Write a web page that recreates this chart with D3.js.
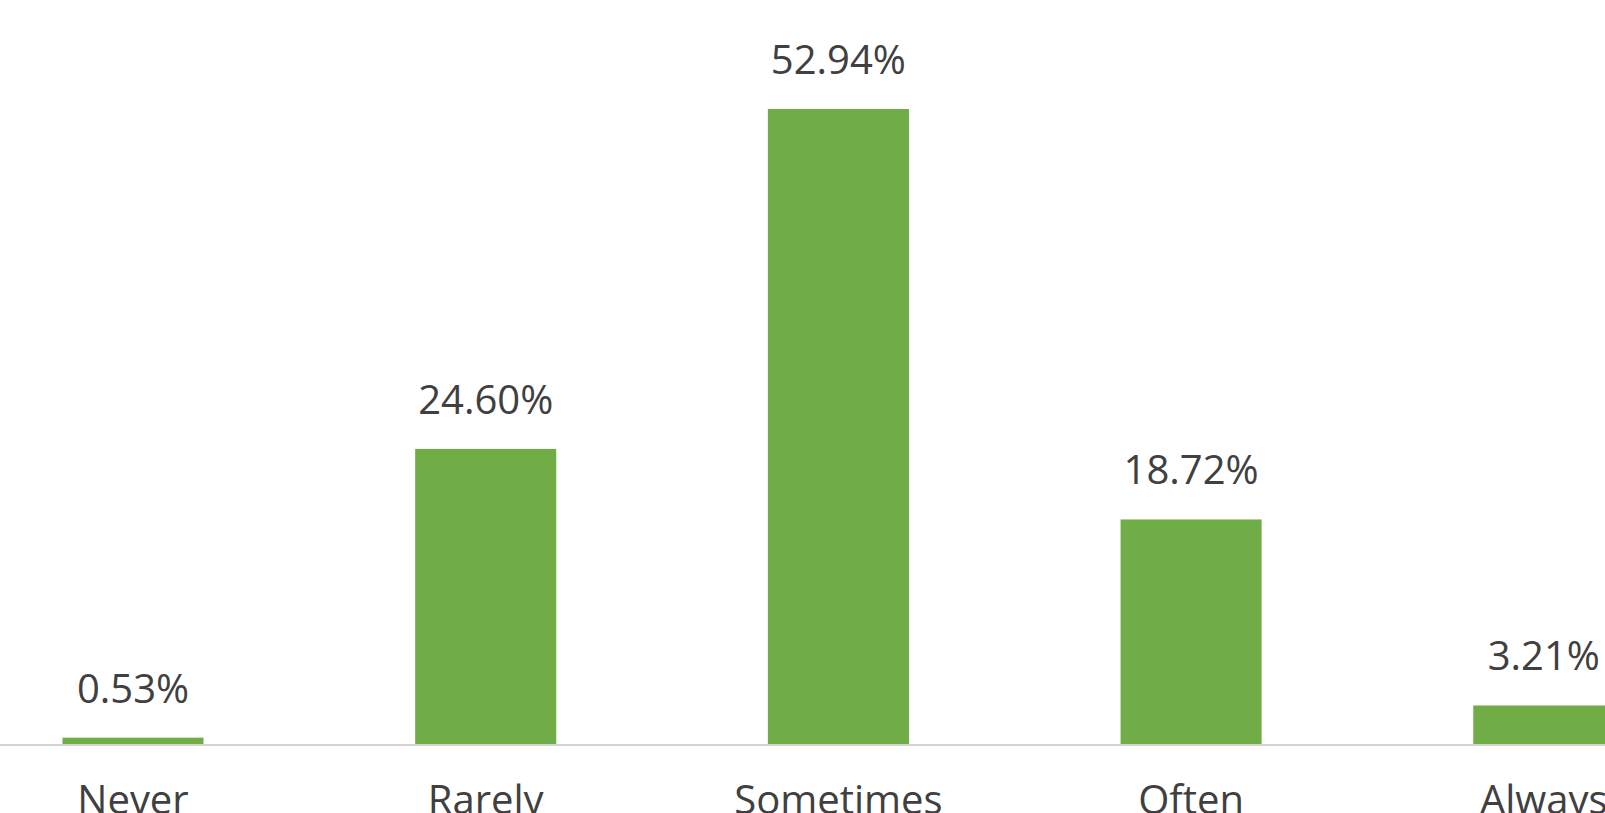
<!DOCTYPE html>
<html>
<head>
<meta charset="utf-8">
<script src="https://cdn.jsdelivr.net/npm/d3@7"></script>
<style>
  html, body { margin: 0; padding: 0; background: #ffffff; overflow: hidden; }
  svg { display: block; }
</style>
</head>
<body>
<script>
// Survey response frequencies (percent of respondents)
const categories = ["Never", "Rarely", "Sometimes", "Often", "Always"];
const percentages = [0.53, 24.60, 52.94, 18.72, 3.21];
const valueLabels = ["0.53%", "24.60%", "52.94%", "18.72%", "3.21%"];

const W = 1605, H = 813;
const baseline = 744;
const step = 352.7;
const firstCenter = 133;

const svg = d3.select("body").append("svg")
  .attr("width", W).attr("height", H);

// Category axis: each band is one category slot, bars take 40% of the slot
const x = d3.scaleBand()
  .domain(categories)
  .range([firstCenter - step / 2, firstCenter - step / 2 + step * categories.length])
  .paddingInner(0.6)
  .paddingOuter(0.3);

// Value axis
const y = d3.scaleLinear()
  .domain([0, 52.94])
  .range([baseline, 109]);

const data = categories.map((c, i) => ({ cat: c, v: percentages[i], label: valueLabels[i] }));

// Bars
svg.append("g").selectAll("rect")
  .data(data)
  .join("rect")
  .attr("x", d => x(d.cat))
  .attr("y", d => y(d.v))
  .attr("width", x.bandwidth())
  .attr("height", d => baseline - y(d.v))
  .attr("fill", "#70ad47");

// Horizontal category axis line with labels below
const xAxis = d3.axisBottom(x).tickSize(0).tickPadding(40);
const gx = svg.append("g")
  .attr("transform", `translate(0,${baseline + 1})`)
  .call(xAxis);
gx.select(".domain")
  .attr("d", `M0,0H${W}`)
  .attr("stroke", "#d4d4d4")
  .attr("stroke-width", 2);
gx.selectAll(".tick text")
  .attr("y", null)
  .attr("dy", null)
  .attr("transform", null)
  .attr("y", 69)
  .style("font-family", "'Open Sans', sans-serif")
  .style("font-size", "40px")
  .attr("fill", "#404040");

// Value labels above each bar
svg.append("g").selectAll("text")
  .data(data)
  .join("text")
  .attr("x", d => x(d.cat) + x.bandwidth() / 2)
  .attr("y", d => y(d.v) - 35)
  .attr("text-anchor", "middle")
  .style("font-family", "'Open Sans', sans-serif")
  .style("font-size", "40px")
  .attr("fill", "#404040")
  .text(d => d.label);
</script>
</body>
</html>
